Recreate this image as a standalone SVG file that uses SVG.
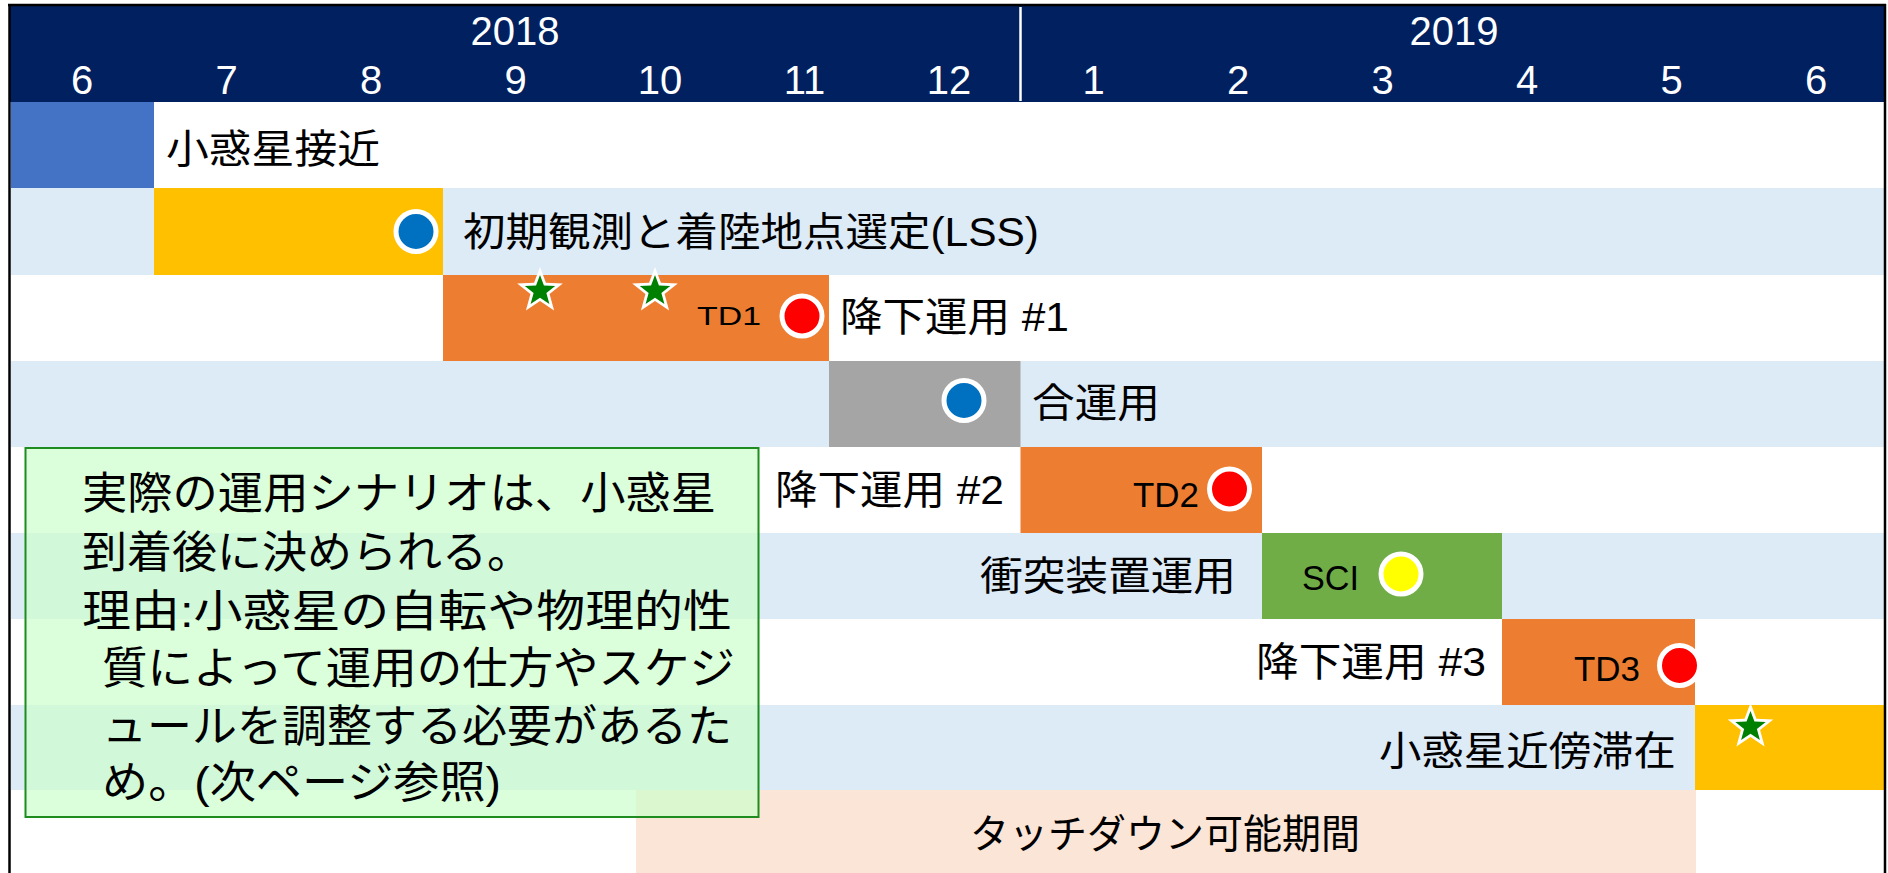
<svg xmlns="http://www.w3.org/2000/svg" xmlns:xlink="http://www.w3.org/1999/xlink" width="1888" height="873" viewBox="0 0 1888 873">
<style>
.hdr{font-family:"Liberation Sans",Arial,sans-serif;font-size:40px;fill:#ffffff;text-anchor:middle}
.lbl{font-family:"Liberation Sans","Noto Sans CJK JP",sans-serif;font-size:40px;fill:#000000}
.box{font-family:"Liberation Sans","Noto Sans CJK JP",sans-serif;font-size:44px;fill:#000000}
.td{font-family:"Liberation Sans",Arial,sans-serif;font-size:35px;fill:#000000}
.rowb{fill:#DDEBF7}
.dot{stroke:#ffffff;stroke-width:5}
</style>
<defs>
<g id="star">
<polygon points="0,-24 5.93,-8.16 22.82,-7.42 9.58,3.12 14.11,19.42 0,10.08 -14.11,19.42 -9.58,3.12 -22.82,-7.42 -5.93,-8.16" fill="#ffffff"/>
<polygon points="0,-16 3.95,-5.44 15.22,-4.94 6.38,2.08 9.41,12.94 0,6.72 -9.41,12.94 -6.38,2.08 -15.22,-4.94 -3.95,-5.44" fill="#008000"/>
</g>
</defs>
<rect x="0" y="0" width="1888" height="873" fill="#ffffff"/>
<g id="header">
<rect x="10" y="6" width="1874" height="96" fill="#002060"/>
<line x1="1020.5" y1="7" x2="1020.5" y2="101" stroke="#ffffff" stroke-width="2.5"/>
<text class="hdr" x="515" y="45">2018</text>
<text class="hdr" x="1454" y="45">2019</text>
<text class="hdr" x="82" y="94">6</text>
<text class="hdr" x="226.5" y="94">7</text>
<text class="hdr" x="371" y="94">8</text>
<text class="hdr" x="515.5" y="94">9</text>
<text class="hdr" x="660" y="94">10</text>
<text class="hdr" x="804.5" y="94">11</text>
<text class="hdr" x="949" y="94">12</text>
<text class="hdr" x="1093.5" y="94">1</text>
<text class="hdr" x="1238" y="94">2</text>
<text class="hdr" x="1382.5" y="94">3</text>
<text class="hdr" x="1527" y="94">4</text>
<text class="hdr" x="1671.5" y="94">5</text>
<text class="hdr" x="1816" y="94">6</text>
</g>
<g id="rows">
<rect class="rowb" x="11" y="188" width="1873" height="87"/>
<rect class="rowb" x="11" y="361" width="1873" height="86"/>
<rect class="rowb" x="11" y="533" width="1873" height="86"/>
<rect class="rowb" x="11" y="705" width="1873" height="85"/>
</g>
<g id="task-approach">
<rect x="11" y="102" width="143" height="86" fill="#4472C4"/>
<text class="lbl" x="166" y="163" textLength="214" lengthAdjust="spacingAndGlyphs">小惑星接近</text>
</g>
<g id="task-lss">
<rect x="154" y="188" width="289" height="87" fill="#FFC000"/>
<circle class="dot" cx="416" cy="231.5" r="20" fill="#0070C0"/>
<text class="lbl" x="463" y="246" textLength="576" lengthAdjust="spacingAndGlyphs">初期観測と着陸地点選定(LSS)</text>
</g>
<g id="task-td1">
<rect x="443" y="275" width="386" height="86" fill="#ED7D31"/>
<use xlink:href="#star" x="540" y="291"/>
<use xlink:href="#star" x="655" y="291"/>
<text class="td" x="697" y="325" style="font-size:26px" textLength="64" lengthAdjust="spacingAndGlyphs">TD1</text>
<circle class="dot" cx="802" cy="316" r="20" fill="#FF0000"/>
<text class="lbl" x="840" y="331" textLength="229" lengthAdjust="spacingAndGlyphs">降下運用 #1</text>
</g>
<g id="task-joint">
<rect x="829" y="361" width="191.5" height="86" fill="#A5A5A5"/>
<circle class="dot" cx="964" cy="400.5" r="20" fill="#0070C0"/>
<text class="lbl" x="1032" y="417" textLength="128" lengthAdjust="spacingAndGlyphs">合運用</text>
</g>
<g id="task-td2">
<rect x="1020.5" y="447" width="241.5" height="86" fill="#ED7D31"/>
<text class="lbl" x="775" y="504" textLength="229" lengthAdjust="spacingAndGlyphs">降下運用 #2</text>
<text class="td" x="1133" y="507" textLength="66" lengthAdjust="spacingAndGlyphs">TD2</text>
<circle class="dot" cx="1229.5" cy="489" r="20" fill="#FF0000"/>
</g>
<g id="task-sci">
<rect x="1262" y="533" width="240" height="86" fill="#70AD47"/>
<text class="lbl" x="980" y="590" textLength="256" lengthAdjust="spacingAndGlyphs">衝突装置運用</text>
<text class="td" x="1302" y="590" textLength="57" lengthAdjust="spacingAndGlyphs">SCI</text>
<circle class="dot" cx="1401" cy="574" r="20" fill="#FFFF00"/>
</g>
<g id="task-td3">
<rect x="1502" y="619" width="193" height="86" fill="#ED7D31"/>
<text class="lbl" x="1256" y="676" textLength="230" lengthAdjust="spacingAndGlyphs">降下運用 #3</text>
<text class="td" x="1574" y="681" textLength="66" lengthAdjust="spacingAndGlyphs">TD3</text>
<circle class="dot" cx="1679.5" cy="665.5" r="20" fill="#FF0000"/>
</g>
<g id="task-stay">
<rect x="1695" y="705" width="189" height="85" fill="#FFC000"/>
<use xlink:href="#star" x="1750.5" y="727"/>
<text class="lbl" x="1379" y="765" textLength="297" lengthAdjust="spacingAndGlyphs">小惑星近傍滞在</text>
</g>
<g id="touchdown-window">
<rect x="636" y="790" width="1060" height="83" fill="#FBE5D6"/>
<text class="lbl" x="970" y="848" textLength="390" lengthAdjust="spacingAndGlyphs">タッチダウン可能期間</text>
</g>
<g id="note">
<rect x="25.5" y="448" width="733" height="369" fill="#CCFFCC" fill-opacity="0.7" stroke="#1E8C1E" stroke-width="2"/>
<text class="box" x="82" y="509" textLength="634" lengthAdjust="spacingAndGlyphs">実際の運用シナリオは、小惑星</text>
<text class="box" x="82" y="568" textLength="450" lengthAdjust="spacingAndGlyphs">到着後に決められる。</text>
<text class="box" x="82" y="627" textLength="650" lengthAdjust="spacingAndGlyphs">理由:小惑星の自転や物理的性</text>
<text class="box" x="102" y="684" textLength="633" lengthAdjust="spacingAndGlyphs">質によって運用の仕方やスケジ</text>
<text class="box" x="102" y="742" textLength="630" lengthAdjust="spacingAndGlyphs">ュールを調整する必要があるた</text>
<text class="box" x="102" y="798" textLength="399" lengthAdjust="spacingAndGlyphs">め。(次ページ参照)</text>
</g>
<g id="frame">
<line x1="8" y1="5" x2="1886" y2="5" stroke="#000000" stroke-width="2.5"/>
<line x1="9.5" y1="4" x2="9.5" y2="873" stroke="#000000" stroke-width="2.5"/>
<line x1="1885" y1="4" x2="1885" y2="873" stroke="#000000" stroke-width="2.5"/>
</g>
</svg>
